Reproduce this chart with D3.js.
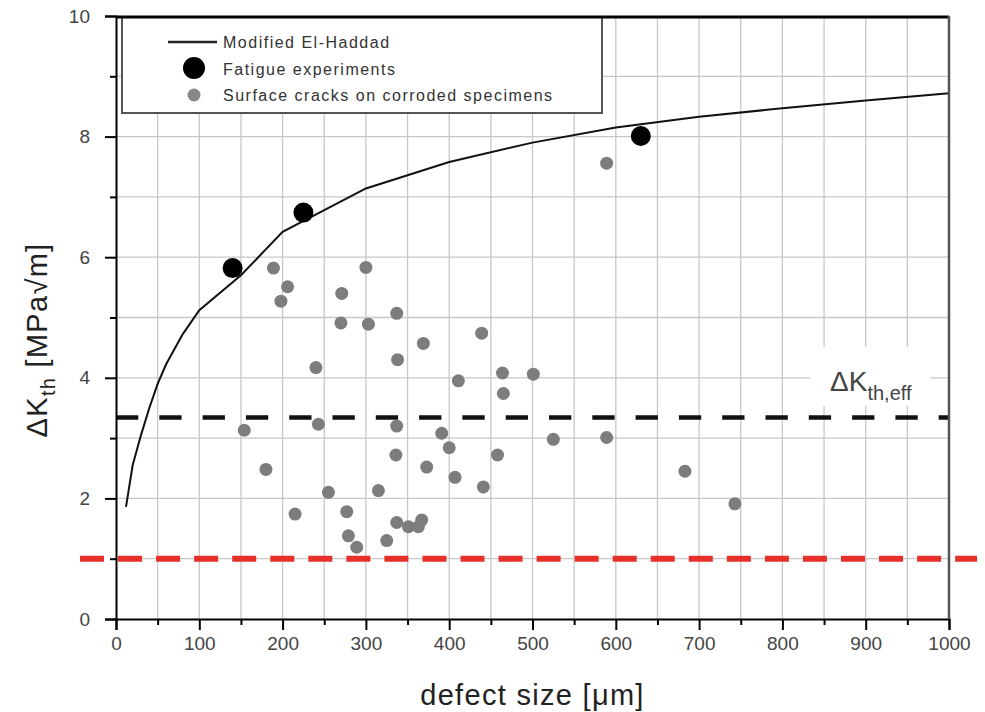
<!DOCTYPE html>
<html>
<head>
<meta charset="utf-8">
<script src="https://cdn.jsdelivr.net/npm/d3@7"></script>
<style>
  html, body { margin: 0; padding: 0; background: #fff; }
  svg { display: block; font-family: "Liberation Sans", Arial, sans-serif; }
</style>
</head>
<body>
<div id="chart"></div>
<script>
// ---- data ----
const curveX = [12, 20, 30, 40, 50, 60, 80, 100, 150, 200, 250, 300, 400, 500, 600, 700, 800, 900, 1000];
const curveY = [1.86, 2.55, 3.05, 3.5, 3.9, 4.22, 4.72, 5.12, 5.7, 6.42, 6.78, 7.14, 7.58, 7.9, 8.15, 8.33, 8.47, 8.6, 8.72];

const fatigueX = [140, 225, 630];
const fatigueY = [5.82, 6.74, 8.01];

const crackX = [189, 206, 198, 271, 300, 270, 303, 337, 369, 338, 240, 154, 180, 243, 215, 255, 277, 279, 289, 315, 337, 336, 325, 337, 351, 363, 367, 373, 391, 400, 407, 411, 439, 441, 464, 465, 458, 501, 525, 589, 683, 743, 589];
const crackY = [5.82, 5.51, 5.27, 5.40, 5.83, 4.91, 4.89, 5.07, 4.57, 4.30, 4.17, 3.13, 2.48, 3.23, 1.74, 2.10, 1.78, 1.38, 1.19, 2.13, 3.20, 2.72, 1.30, 1.60, 1.53, 1.53, 1.64, 2.52, 3.08, 2.84, 2.35, 3.95, 4.74, 2.19, 4.08, 3.74, 2.72, 4.06, 2.98, 3.01, 2.45, 1.91, 7.56];

const kEff = 3.34;      // ΔK_th,eff
const kLower = 1.0;     // red dashed level

const xTicks = d3.range(0, 1001, 50);
const yTicks = d3.range(0, 11, 1);
const legendLabels = ["Modified El-Haddad", "Fatigue experiments", "Surface cracks on corroded specimens"];
const xTitle = "defect size [\u03bcm]";

// ---- layout ----
const W = 985, H = 712;
const M = { left: 116, right: 36, top: 16, bottom: 93 };
const x = d3.scaleLinear().domain([0, 1000]).range([M.left, W - M.right]);
const y = d3.scaleLinear().domain([0, 10]).range([H - M.bottom, M.top]);

const svg = d3.select("#chart").append("svg").attr("width", W).attr("height", H);
svg.append("rect").attr("width", W).attr("height", H).attr("fill", "#fff");

// grid
const grid = svg.append("g");
grid.selectAll("line.v").data(xTicks.filter(d => d > 0 && d < 1000)).join("line")
  .attr("x1", d => x(d)).attr("x2", d => x(d)).attr("y1", y(10)).attr("y2", y(0))
  .attr("stroke", "#c8c8c8").attr("stroke-width", 1.3);
grid.selectAll("line.h").data(yTicks.filter(d => d > 0 && d < 10)).join("line")
  .attr("x1", x(0)).attr("x2", x(1000)).attr("y1", d => y(d)).attr("y2", d => y(d))
  .attr("stroke", "#c8c8c8").attr("stroke-width", 1.3);

// label background for ΔK_th,eff
svg.append("rect").attr("x", 810).attr("y", 347).attr("width", 120).attr("height", 59).attr("fill", "#fff");

// legend box
svg.append("rect").attr("x", x(0) + 6).attr("y", y(10) + 1).attr("width", 480).attr("height", 96)
  .attr("fill", "#fff").attr("stroke", "#555").attr("stroke-width", 2);

// curve
const line = d3.line().x(d => x(d[0])).y(d => y(d[1]));
svg.append("path").datum(curveX.map((v, i) => [v, curveY[i]]))
  .attr("d", line).attr("fill", "none").attr("stroke", "#111").attr("stroke-width", 2);

// dashed reference lines
svg.append("line").attr("x1", x(0)).attr("x2", x(1000)).attr("y1", y(kEff)).attr("y2", y(kEff))
  .attr("stroke", "#111").attr("stroke-width", 4.5).attr("stroke-dasharray", "22.3,21");
svg.append("line").attr("x1", x(0) - 36).attr("x2", x(1000) + 28).attr("y1", y(kLower)).attr("y2", y(kLower))
  .attr("stroke", "#e8302a").attr("stroke-width", 6).attr("stroke-dasharray", "24,14.05");

// points
svg.append("g").selectAll("circle").data(crackX.map((v, i) => [v, crackY[i]])).join("circle")
  .attr("cx", d => x(d[0])).attr("cy", d => y(d[1])).attr("r", 6.5).attr("fill", "#7d7d7d");
svg.append("g").selectAll("circle").data(fatigueX.map((v, i) => [v, fatigueY[i]])).join("circle")
  .attr("cx", d => x(d[0])).attr("cy", d => y(d[1])).attr("r", 10).attr("fill", "#000");

// axes
const xAxis = d3.axisBottom(x).tickValues(xTicks).tickSizeOuter(0).tickSize(11).tickPadding(7)
  .tickFormat(d => d % 100 === 0 ? d : "");
const gx = svg.append("g").attr("transform", `translate(0,${y(0)})`).call(xAxis);
gx.selectAll(".tick line").attr("y2", d => d % 100 === 0 ? 11 : 6).attr("stroke", "#000").attr("stroke-width", 2);
gx.select(".domain").attr("stroke", "#000").attr("stroke-width", 2);
gx.selectAll("text").attr("font-size", 19).attr("fill", "#444").attr("font-family", "Liberation Sans, Arial, sans-serif");

const yAxis = d3.axisLeft(y).tickValues(yTicks).tickSizeOuter(0).tickSize(11).tickPadding(15)
  .tickFormat(d => d % 2 === 0 ? d : "");
const gy = svg.append("g").attr("transform", `translate(${x(0)},0)`).call(yAxis);
gy.selectAll(".tick line").attr("x2", d => d % 2 === 0 ? -11 : -6).attr("stroke", "#000").attr("stroke-width", 2);
gy.select(".domain").attr("stroke", "#000").attr("stroke-width", 2);
gy.selectAll("text").attr("font-size", 19).attr("fill", "#444").attr("font-family", "Liberation Sans, Arial, sans-serif");

// frame top / right
svg.append("line").attr("x1", x(0)).attr("x2", x(1000)).attr("y1", y(10) + 1).attr("y2", y(10) + 1)
  .attr("stroke", "#000").attr("stroke-width", 3);
svg.append("line").attr("x1", x(1000)).attr("x2", x(1000)).attr("y1", y(10)).attr("y2", y(0))
  .attr("stroke", "#555").attr("stroke-width", 2.5);

// legend content
const lg = svg.append("g");
lg.append("line").attr("x1", 168).attr("x2", 217).attr("y1", 42).attr("y2", 42).attr("stroke", "#222").attr("stroke-width", 2.5);
lg.append("circle").attr("cx", 194).attr("cy", 68).attr("r", 11).attr("fill", "#000");
lg.append("circle").attr("cx", 194).attr("cy", 95).attr("r", 6.5).attr("fill", "#888");
lg.selectAll("text").data(legendLabels).join("text")
  .attr("x", 223).attr("y", (d, i) => [48, 75, 101][i])
  .attr("font-size", 16).attr("letter-spacing", "1.5px").attr("fill", "#333").text(d => d);

// ΔK_th,eff label
const kl = svg.append("text").attr("x", 830).attr("y", 391).attr("fill", "#444");
kl.append("tspan").attr("font-size", 28).text("\u0394K");
kl.append("tspan").attr("font-size", 20).attr("dy", 9).text("th,eff");

// axis titles
svg.append("text").attr("x", (x(0) + x(1000)) / 2).attr("y", 705).attr("text-anchor", "middle")
  .attr("font-size", 29).attr("letter-spacing", "1.3px").attr("fill", "#222").text(xTitle);

const yt = svg.append("text").attr("transform", "translate(47,340) rotate(-90)")
  .attr("text-anchor", "middle").attr("fill", "#222").attr("letter-spacing", "1.3px");
yt.append("tspan").attr("font-size", 29).text("\u0394K");
yt.append("tspan").attr("font-size", 20).attr("dy", 8).text("th");
yt.append("tspan").attr("font-size", 29).attr("dy", -8).text(" [MPa\u221am]");
</script>
</body>
</html>
